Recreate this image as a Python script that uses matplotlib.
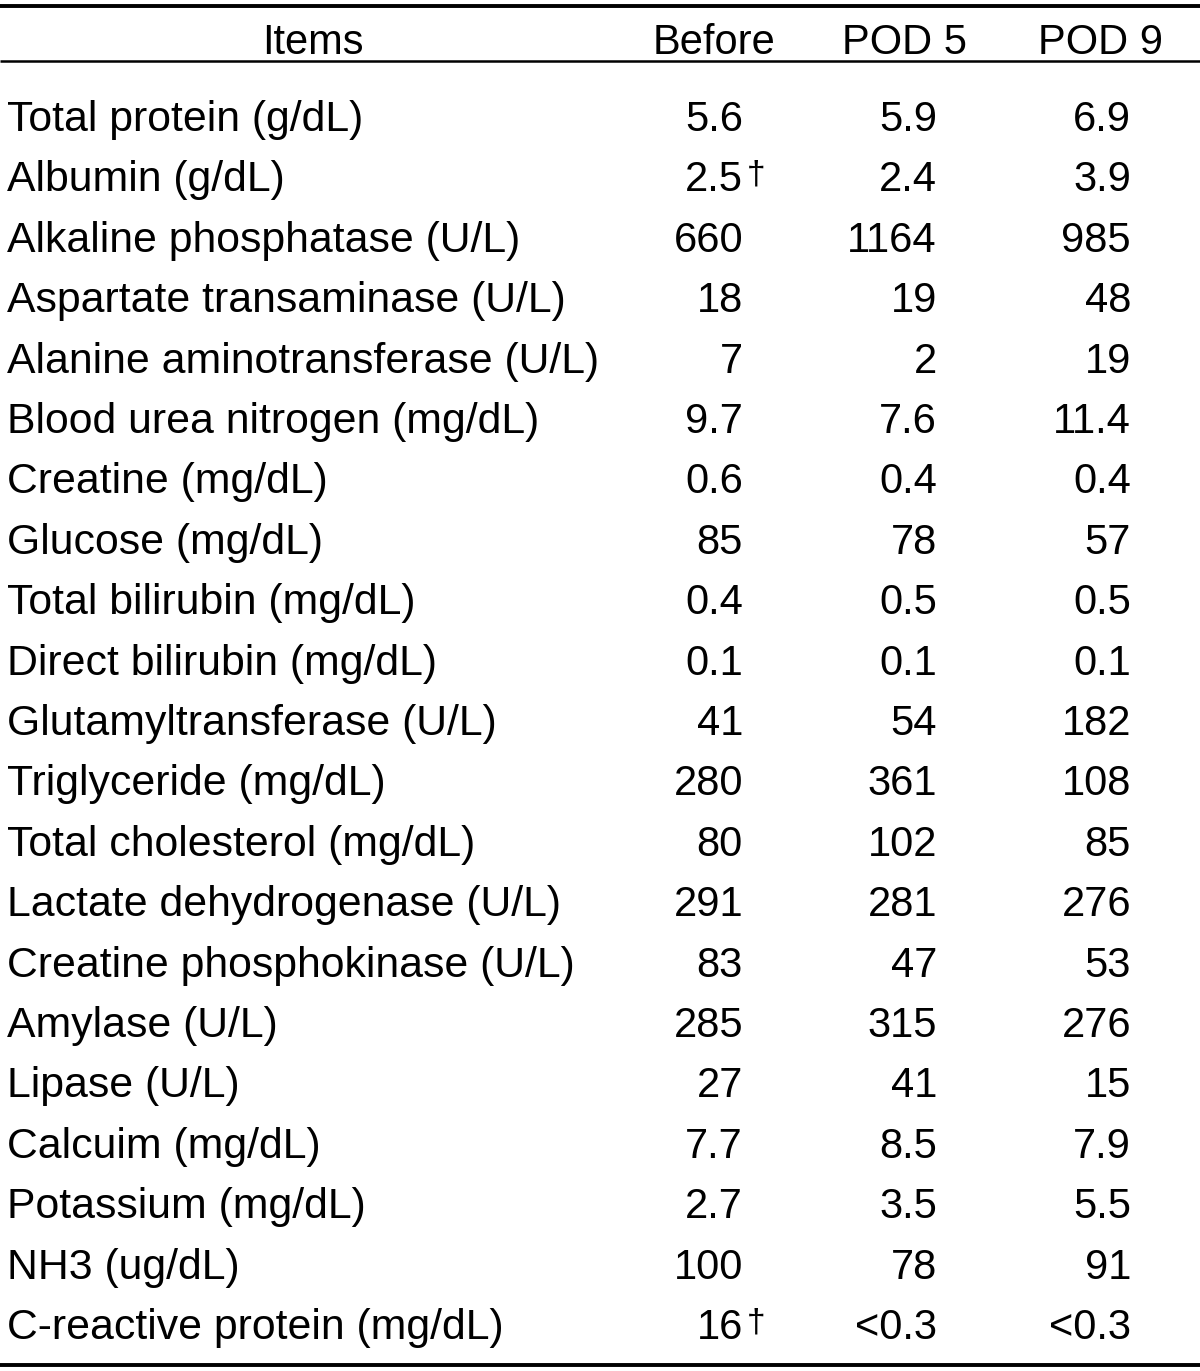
import matplotlib
matplotlib.use("Agg")
import matplotlib.pyplot as plt

items = ["Total protein (g/dL)", "Albumin (g/dL)", "Alkaline phosphatase (U/L)",
         "Aspartate transaminase (U/L)", "Alanine aminotransferase (U/L)",
         "Blood urea nitrogen (mg/dL)", "Creatine (mg/dL)", "Glucose (mg/dL)",
         "Total bilirubin (mg/dL)", "Direct bilirubin (mg/dL)",
         "Glutamyltransferase (U/L)", "Triglyceride (mg/dL)",
         "Total cholesterol (mg/dL)", "Lactate dehydrogenase (U/L)",
         "Creatine phosphokinase (U/L)", "Amylase (U/L)", "Lipase (U/L)",
         "Calcuim (mg/dL)", "Potassium (mg/dL)", "NH3 (ug/dL)",
         "C-reactive protein (mg/dL)"]
before = ["5.6", "2.5", "660", "18", "7", "9.7", "0.6", "85", "0.4", "0.1", "41",
          "280", "80", "291", "83", "285", "27", "7.7", "2.7", "100", "16"]
pod5 = ["5.9", "2.4", "1164", "19", "2", "7.6", "0.4", "78", "0.5", "0.1", "54",
        "361", "102", "281", "47", "315", "41", "8.5", "3.5", "78", "<0.3"]
pod9 = ["6.9", "3.9", "985", "48", "19", "11.4", "0.4", "57", "0.5", "0.1", "182",
        "108", "85", "276", "53", "276", "15", "7.9", "5.5", "91", "<0.3"]
dagger_rows = [1, 20]
headers = ["Items", "Before", "POD 5", "POD 9"]

W, H = 1200, 1371
fig = plt.figure(figsize=(W / 100, H / 100), dpi=100)
ax = fig.add_axes([0, 0, 1, 1])
ax.set_xlim(0, W)
ax.set_ylim(H, 0)
ax.axis("off")

font = "Liberation Sans"
fs = 30
fs_label = 30.8

# header
hx = [313, 714, 905, 1100]
for x, h in zip(hx, headers):
    ax.text(x, 54, h, ha="center", va="baseline", fontsize=fs, family=font)

ax.plot([0, 1200], [6, 6], color="black", lw=2.8, solid_capstyle="butt")
ax.plot([0, 1200], [61, 61], color="black", lw=1.8, solid_capstyle="butt")
ax.plot([0, 1200], [1365, 1365], color="black", lw=2.8, solid_capstyle="butt")

y0, dy = 131, 60.4
for i, name in enumerate(items):
    y = y0 + i * dy
    ax.text(7, y, name, ha="left", va="baseline", fontsize=fs_label, family=font)
    for xr, col in zip([743, 937, 1131], [before, pod5, pod9]):
        ax.text(xr, y, col[i], ha="right", va="baseline", fontsize=fs, family=font)
    if i in dagger_rows:
        ax.text(747, y - 8, "\u2020", ha="left", va="baseline", fontsize=24, family=font)

fig.savefig("out.png", dpi=100)
